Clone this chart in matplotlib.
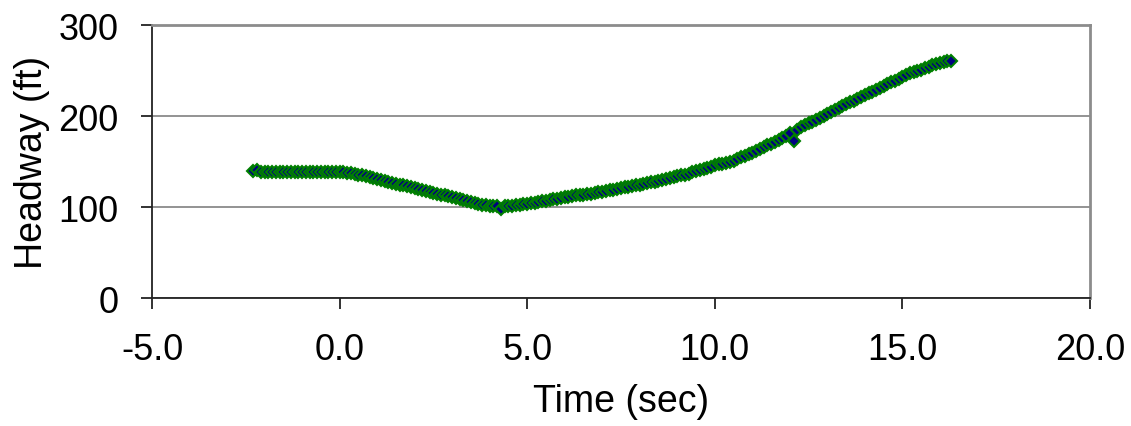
import matplotlib
matplotlib.use("Agg")
import matplotlib.pyplot as plt

plt.rcParams["font.family"] = ["Liberation Sans", "DejaVu Sans"]

# time stamps (sec), one sample every 0.1 s
time_sec = [
    -2.3, -2.2, -2.1, -2.0, -1.9, -1.8, -1.7, -1.6, -1.5, -1.4,
    -1.3, -1.2, -1.1, -1.0, -0.9, -0.8, -0.7, -0.6, -0.5, -0.4,
    -0.3, -0.2, -0.1, 0.0, 0.1, 0.2, 0.3, 0.4, 0.5, 0.6,
    0.7, 0.8, 0.9, 1.0, 1.1, 1.2, 1.3, 1.4, 1.5, 1.6,
    1.7, 1.8, 1.9, 2.0, 2.1, 2.2, 2.3, 2.4, 2.5, 2.6,
    2.7, 2.8, 2.9, 3.0, 3.1, 3.2, 3.3, 3.4, 3.5, 3.6,
    3.7, 3.8, 3.9, 4.0, 4.1, 4.2, 4.3, 4.4, 4.5, 4.6,
    4.7, 4.8, 4.9, 5.0, 5.1, 5.2, 5.3, 5.4, 5.5, 5.6,
    5.7, 5.8, 5.9, 6.0, 6.1, 6.2, 6.3, 6.4, 6.5, 6.6,
    6.7, 6.8, 6.9, 7.0, 7.1, 7.2, 7.3, 7.4, 7.5, 7.6,
    7.7, 7.8, 7.9, 8.0, 8.1, 8.2, 8.3, 8.4, 8.5, 8.6,
    8.7, 8.8, 8.9, 9.0, 9.1, 9.2, 9.3, 9.4, 9.5, 9.6,
    9.7, 9.8, 9.9, 10.0, 10.1, 10.2, 10.3, 10.4, 10.5, 10.6,
    10.7, 10.8, 10.9, 11.0, 11.1, 11.2, 11.3, 11.4, 11.5, 11.6,
    11.7, 11.8, 11.9, 12.0, 12.1, 12.2, 12.3, 12.4, 12.5, 12.6,
    12.7, 12.8, 12.9, 13.0, 13.1, 13.2, 13.3, 13.4, 13.5, 13.6,
    13.7, 13.8, 13.9, 14.0, 14.1, 14.2, 14.3, 14.4, 14.5, 14.6,
    14.7, 14.8, 14.9, 15.0, 15.1, 15.2, 15.3, 15.4, 15.5, 15.6,
    15.7, 15.8, 15.9, 16.0, 16.1, 16.2, 16.3,
]

# headway (ft)
headway_ft = [
    140, 141, 139, 139, 139, 139, 139, 139, 139, 139,
    139, 139, 139, 139, 139, 139, 139, 139, 139, 139,
    139, 139, 139, 139, 139, 138, 138, 137, 136, 135,
    134, 133, 132, 131, 130, 129, 128, 127, 126, 125,
    124, 123, 122, 121, 120, 119, 118, 117, 116, 115,
    114, 113, 112, 111, 110, 109, 108, 107, 106, 105,
    104, 103, 103, 102, 102, 101, 98, 101, 101, 102,
    103, 103, 104, 104, 105, 105, 106, 107, 107, 108,
    109, 109, 110, 111, 111, 112, 113, 113, 114, 115,
    115, 116, 117, 117, 118, 119, 119, 120, 121, 122,
    122, 123, 124, 125, 126, 127, 128, 128, 129, 130,
    131, 132, 133, 134, 135, 136, 137, 139, 140, 141,
    142, 143, 144, 146, 147, 148, 149, 150, 151, 153,
    155, 156, 158, 160, 162, 164, 166, 168, 170, 172,
    174, 176, 178, 181, 173, 185, 188, 190, 192, 194,
    196, 198, 200, 202, 205, 207, 209, 211, 213, 215,
    217, 219, 221, 223, 225, 227, 229, 231, 233, 235,
    237, 239, 241, 243, 245, 247, 248, 250, 251, 253,
    254, 256, 257, 258, 259, 260, 261,
]

x_ticks = [-5, 0, 5, 10, 15, 20]
y_ticks = [0, 100, 200, 300]

fig = plt.figure(figsize=(11.31, 4.27), dpi=100)
ax = fig.add_axes([0.1344, 0.2986, 0.8293, 0.6405])

ax.plot(time_sec, headway_ft, linestyle="none", marker="D",
        markersize=6.5, markerfacecolor="#000080",
        markeredgecolor="#008000", markeredgewidth=1.5, zorder=3)

ax.set_xlim(-5, 20)
ax.set_ylim(0, 300)
ax.set_xticks(x_ticks)
ax.set_xticklabels(["%.1f" % v for v in x_ticks])
ax.set_yticks(y_ticks)

ax.grid(axis="y", color="#808080", linewidth=1.2, zorder=0)
ax.set_axisbelow(True)

for side in ["top", "right"]:
    ax.spines[side].set_color("#8c8c8c")
    ax.spines[side].set_linewidth(2)
for side in ["left", "bottom"]:
    ax.spines[side].set_color("#222222")
    ax.spines[side].set_linewidth(1.3)

ax.tick_params(axis="both", direction="out", length=8, width=1.3,
               color="#222222", labelsize=26, pad=16)

ax.set_xlabel("Time (sec)", fontsize=27, labelpad=12)
ax.set_ylabel("Headway (ft)", fontsize=27)
ax.yaxis.set_label_coords(-0.109, 0.5)

fig.savefig("out.png", dpi=100)
plt.close(fig)
